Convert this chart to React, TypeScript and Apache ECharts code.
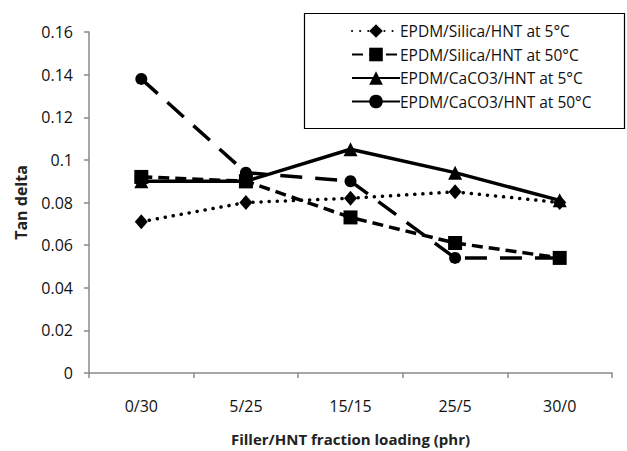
import React, { useEffect, useRef } from "react";
import * as echarts from "echarts";

// Filler/HNT fraction loading categories (phr)
const categories = ["0/30", "5/25", "15/15", "25/5", "30/0"];

// Tan delta values per compound and temperature
const silica5C = [0.071, 0.08, 0.082, 0.085, 0.08];
const silica50C = [0.092, 0.09, 0.073, 0.061, 0.054];
const caco3_5C = [0.09, 0.09, 0.105, 0.094, 0.081];
const caco3_50C = [0.138, 0.094, 0.09, 0.054, 0.054];

const seriesNames = [
  "EPDM/Silica/HNT at 5°C",
  "EPDM/Silica/HNT at 50°C",
  "EPDM/CaCO3/HNT at 5°C",
  "EPDM/CaCO3/HNT at 50°C",
];

const FONT = "'Open Sans', 'Liberation Sans', sans-serif";
const AXIS_GRAY = "#8a8a8a";

export default function App() {
  const ref = useRef<HTMLDivElement>(null);

  useEffect(() => {
    if (!ref.current) return;
    const chart = echarts.init(ref.current, null, { renderer: "svg" });

    const base = {
      type: "line",
      color: "#000",
      showSymbol: true,
      itemStyle: { color: "#000" },
      z: 3,
    };

    chart.setOption({
      animation: false,
      backgroundColor: "#fff",
      textStyle: { fontFamily: FONT },
      grid: { left: 89, right: 15, top: 32, bottom: 74, containLabel: false },
      xAxis: {
        type: "category",
        data: categories,
        boundaryGap: true,
        name: "Filler/HNT fraction loading (phr)",
        nameLocation: "middle",
        nameGap: 58,
        nameTextStyle: { fontFamily: FONT, fontSize: 15, fontWeight: "bold", color: "#222" },
        axisLine: { show: true, lineStyle: { color: AXIS_GRAY, width: 1.5 } },
        axisTick: { show: true, length: 5, alignWithLabel: false, lineStyle: { color: AXIS_GRAY, width: 1.5 } },
        axisLabel: { margin: 25, fontFamily: FONT, fontSize: 16, color: "#111" },
        splitLine: { show: false },
      },
      yAxis: {
        type: "value",
        min: 0,
        max: 0.16,
        interval: 0.02,
        name: "Tan delta",
        nameLocation: "middle",
        nameRotate: 90,
        nameGap: 60,
        nameTextStyle: { fontFamily: FONT, fontSize: 16, fontWeight: "bold", color: "#222" },
        axisLine: { show: true, lineStyle: { color: AXIS_GRAY, width: 1.5 } },
        axisTick: { show: true, length: 5, lineStyle: { color: AXIS_GRAY, width: 1.5 } },
        axisLabel: {
          margin: 16,
          fontFamily: FONT,
          fontSize: 16,
          color: "#111",
          formatter: (v: number) => String(+v.toFixed(2)),
        },
        splitLine: { show: false },
      },
      legend: {
        orient: "vertical",
        left: 346,
        top: 18,
        itemWidth: 48,
        itemHeight: 17,
        itemGap: 7.5,
        selectedMode: false,
        textStyle: { fontFamily: FONT, fontSize: 15.5, color: "#111", padding: [0, 0, 0, -5] },
        data: [
          { name: seriesNames[0] },
          { name: seriesNames[1] },
          { name: seriesNames[2] },
          { name: seriesNames[3], lineStyle: { type: "solid" } },
        ],
      },
      graphic: [
        {
          type: "rect",
          shape: { x: 304.5, y: 13.5, width: 320, height: 115 },
          style: { fill: "none", stroke: "#000", lineWidth: 1.2 },
          z: 1,
        },
      ],
      series: [
        {
          ...base,
          name: seriesNames[0],
          data: silica5C,
          symbol: "diamond",
          symbolSize: [13, 15],
          lineStyle: { color: "#000", width: 3.5, type: [0.1, 8], cap: "round" },
        },
        {
          ...base,
          name: seriesNames[1],
          data: silica50C,
          symbol: "rect",
          symbolSize: 14,
          lineStyle: { color: "#000", width: 3.5, type: [11, 6] },
        },
        {
          ...base,
          name: seriesNames[2],
          data: caco3_5C,
          symbol: "triangle",
          symbolSize: 14,
          lineStyle: { color: "#000", width: 3.5, type: "solid" },
        },
        {
          ...base,
          name: seriesNames[3],
          data: caco3_50C,
          symbol: "circle",
          symbolSize: 12,
          lineStyle: { color: "#000", width: 3.5, type: [22, 13] },
        },
      ],
    });

    return () => chart.dispose();
  }, []);

  return (
    <div
      ref={ref}
      style={{ position: "absolute", left: 0, top: 0, width: 627, height: 451 }}
    />
  );
}
